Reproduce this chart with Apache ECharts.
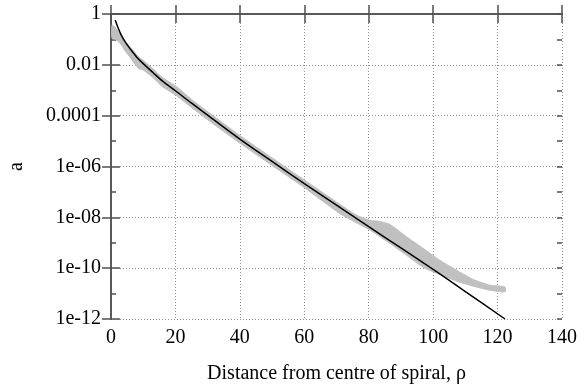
<!DOCTYPE html>
<html>
<head>
<meta charset="utf-8">
<script src="https://cdn.jsdelivr.net/npm/echarts@6/dist/echarts.min.js"></script>
<style>
  html, body { margin: 0; padding: 0; background: #fff; }
  #chart { width: 586px; height: 385px; }
</style>
</head>
<body>
<div id="chart"></div>
<script>
// black curve: a vs rho
const lineRho = [1.3, 2, 3, 4.5, 6, 8, 10, 13, 16, 20, 25, 30, 40, 50, 60, 70, 80, 90, 100, 110, 122.3];
const lineA = [0.575, 0.331, 0.166, 0.0759, 0.0417, 0.02, 0.0112, 5.01e-3, 2.29e-3, 9.55e-4, 3.09e-4, 1.05e-4,
  1.2e-5, 1.58e-6, 2.14e-7, 3.02e-8, 4.27e-9, 6.31e-10, 8.91e-11, 1.2e-11, 1.0e-12];

// grey band: upper and lower edges
const bandRho = [0.3, 1.5, 3, 4.5, 6, 8.5, 10, 13, 16, 20.4, 25, 30, 40, 50, 60, 71, 76, 80.4, 83, 86.6,
  91.8, 97, 102.1, 107.3, 112.5, 117.7, 122.3];
const bandUpper = [0.355, 0.282, 0.141, 0.0813, 0.0501, 0.0209, 0.0151, 7.08e-3, 3.16e-3, 1.38e-3, 4.37e-4,
  1.45e-4, 1.66e-5, 2.19e-6, 2.95e-7, 3.31e-8, 1.26e-8, 7.59e-9, 7.08e-9, 5.25e-9, 1.7e-9, 5.89e-10,
  2.04e-10, 8.32e-11, 3.55e-11, 2.14e-11, 1.82e-11];
const bandLower = [0.112, 0.1, 0.0661, 0.0331, 0.0191, 7.24e-3, 6.31e-3, 3.16e-3, 1.38e-3, 6.03e-4, 2.09e-4,
  6.92e-5, 8.32e-6, 1.1e-6, 1.48e-7, 1.41e-8, 6.31e-9, 3.16e-9, 1.91e-9, 9.33e-10, 3.16e-10, 1.07e-10,
  5.62e-11, 3.09e-11, 1.95e-11, 1.35e-11, 1.17e-11];

const yTickLabels = ["1", "0.01", "0.0001", "1e-06", "1e-08", "1e-10", "1e-12"];

const FONT = "Liberation Serif";
const FS = 20;
const frame = { show: true, lineStyle: { color: "#505050", width: 1.5 } };
const tickStyle = { color: "#505050", width: 1.5 };
const gridLine = { show: true, lineStyle: { color: "#909090", width: 1, type: [1, 2] } };

function yLabel(v) {
  const k = Math.round(-Math.log10(v) / 2);
  return yTickLabels[k] ?? "";
}

function logAxis(pos, withLabels) {
  return {
    type: "log",
    position: pos,
    logBase: 100,
    min: 1e-12,
    max: 1,
    splitNumber: 6,
    name: withLabels ? "a" : "",
    nameLocation: "middle",
    nameGap: 84,
    nameRotate: 90,
    nameTextStyle: { fontFamily: FONT, fontSize: FS, color: "#000" },
    axisLine: frame,
    axisTick: { show: true, inside: true, length: 9, lineStyle: tickStyle },
    axisLabel: withLabels
      ? { show: true, formatter: yLabel, fontFamily: FONT, fontSize: FS, color: "#000", margin: 10 }
      : { show: false },
    splitLine: withLabels ? gridLine : { show: false },
  };
}

// decade ticks (minor ones) on a plain exponent axis over the same span
function decadeAxis(pos) {
  return {
    type: "value",
    position: pos,
    min: -12,
    max: 0,
    interval: 1,
    axisLine: { show: false },
    axisTick: { show: true, inside: true, length: 5, lineStyle: tickStyle },
    axisLabel: { show: false },
    splitLine: { show: false },
  };
}

const chart = echarts.init(document.getElementById("chart"), null, { renderer: "canvas" });
chart.setOption({
  animation: false,
  backgroundColor: "#fff",
  grid: { left: 111, right: 24, top: 14, bottom: 66, outerBoundsMode: "none", containLabel: false },
  xAxis: [
    {
      type: "value",
      min: 0,
      max: 140,
      interval: 20,
      name: "Distance from centre of spiral, ρ",
      nameLocation: "middle",
      nameGap: 45,
      nameTextStyle: { fontFamily: FONT, fontSize: FS, color: "#000" },
      axisLine: frame,
      axisTick: { show: true, inside: true, length: 9, lineStyle: tickStyle },
      axisLabel: { fontFamily: FONT, fontSize: FS, color: "#000", margin: 9 },
      splitLine: gridLine,
    },
    {
      type: "value",
      position: "top",
      min: 0,
      max: 140,
      interval: 20,
      axisLine: frame,
      axisTick: { show: true, inside: true, length: 9, lineStyle: tickStyle },
      axisLabel: { show: false },
      splitLine: { show: false },
    },
  ],
  yAxis: [logAxis("left", true), logAxis("right", false), decadeAxis("left"), decadeAxis("right")],
  series: [
    {
      type: "custom",
      data: bandRho.map((r, i) => [r, bandUpper[i], bandLower[i]]),
      encode: { x: 0, y: [1, 2] },
      renderItem: (params, api) => {
        if (params.dataIndex !== 0) return null;
        const top = bandRho.map((r, i) => api.coord([r, bandUpper[i]]));
        const bottom = bandRho.map((r, i) => api.coord([r, bandLower[i]])).reverse();
        return {
          type: "polygon",
          shape: { points: top.concat(bottom), smooth: 0.2 },
          style: { fill: "#c0c0c0", stroke: "#c0c0c0", lineWidth: 1 },
        };
      },
      z: 2,
    },
    {
      type: "line",
      symbol: "none",
      smooth: 0.3,
      data: lineRho.map((r, i) => [r, lineA[i]]),
      lineStyle: { color: "#000", width: 1.5 },
      z: 3,
    },
  ],
});
</script>
</body>
</html>
